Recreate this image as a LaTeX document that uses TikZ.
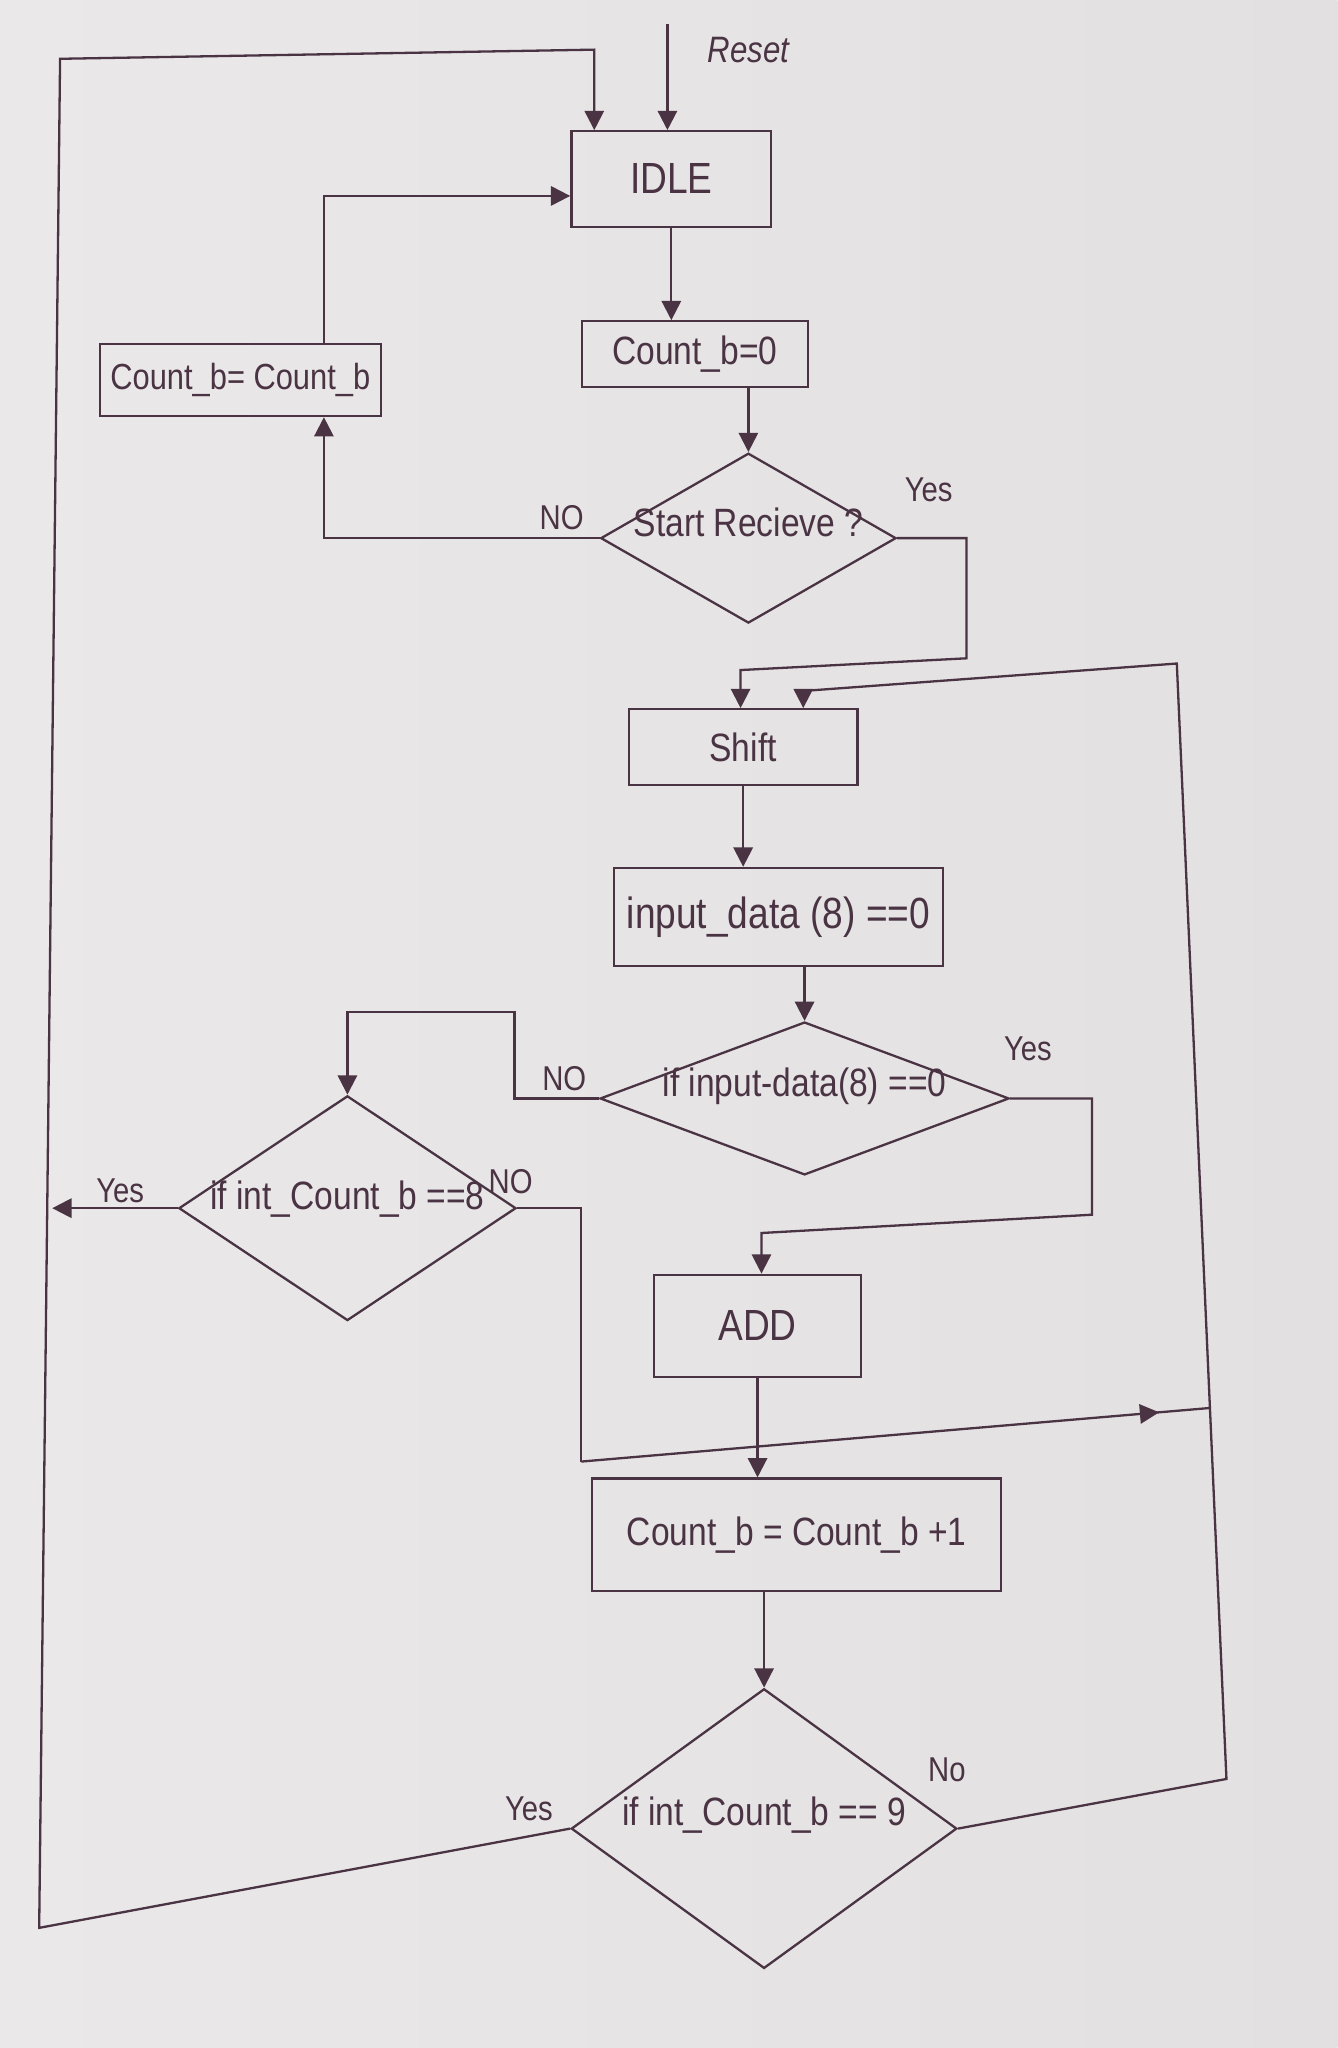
\documentclass[tikz,border=0pt]{standalone}
\usepackage{fontspec}
\setmainfont{Liberation Sans}[FakeStretch=0.85]
\usetikzlibrary{arrows.meta,shapes.geometric,decorations.markings}
\definecolor{ink}{HTML}{4A3343}
\definecolor{paperL}{HTML}{EAE8E9}
\definecolor{paperR}{HTML}{E2E0E1}
\begin{document}
\begin{tikzpicture}[x=0.01cm,y=-0.01cm,
  inkline/.style={draw=ink, line width=0.5pt},
  arr/.style={inkline, -{Triangle[width=4.2pt,length=4.2pt]}},
  midarr/.style={inkline, postaction={decorate},
    decoration={markings, mark=at position 0.92 with {\arrow{Triangle[width=4.2pt,length=4.2pt]}}}},
  box/.style={rectangle, inkline, inner sep=0pt, text=ink, font=\fontsize{8.6}{10}\selectfont},
  dia/.style={diamond, inkline, inner sep=0pt},
  txt/.style={text=ink, font=\fontsize{8.6}{10}\selectfont, inner sep=0pt},
  tag/.style={text=ink, font=\fontsize{7.5}{9}\selectfont, inner sep=0pt},
]
% paper
\shade[left color=paperL, right color=paperR] (0,0) rectangle (1024,1568);
\useasboundingbox (0,0) rectangle (1024,1568);

% process boxes and decisions
\node[box, minimum width=1.53cm, minimum height=0.73cm] (idle) at (514,137) {\fontsize{9.5}{11}\selectfont IDLE};
\node[box, minimum width=1.73cm, minimum height=0.50cm] (cnt0) at (532,271) {Count\_b=0};
\node[box, minimum width=2.15cm, minimum height=0.55cm] (keep) at (184,291) {\fontsize{7.9}{9}\selectfont Count\_b= Count\_b};
\node[dia, minimum width=2.26cm, minimum height=1.30cm,
      label={[txt, yshift=0.12cm]center:Start Recieve ?}] (start) at (573,412) {};
\node[box, minimum width=1.75cm, minimum height=0.58cm] (shift) at (569,572) {Shift};
\node[box, minimum width=2.52cm, minimum height=0.75cm] (inp) at (596,702) {\fontsize{9.5}{11}\selectfont input\_data (8) ==0};
\node[dia, minimum width=3.13cm, minimum height=1.17cm,
      label={[txt, yshift=0.09cm]center:if input-data(8) ==0}] (d1) at (616,841) {};
\node[dia, minimum width=2.58cm, minimum height=1.72cm,
      label={[txt, yshift=0.07cm]center:if int\_Count\_b ==8}] (d8) at (266,925) {};
\node[box, minimum width=1.58cm, minimum height=0.78cm] (add) at (580,1015) {\fontsize{9.5}{11}\selectfont ADD};
\node[box, minimum width=3.13cm, minimum height=0.86cm] (inc) at (610,1175) {Count\_b = Count\_b +1};
\node[dia, minimum width=2.95cm, minimum height=2.14cm,
      label={[txt, yshift=0.1cm]center:if int\_Count\_b == 9}] (d9) at (585,1400) {};

% branch labels
\node[tag, font=\fontsize{8}{9}\selectfont\itshape] (lreset) at (573,38) {Reset};
\node[tag] (lyes1) at (711,375) {Yes};
\node[tag] (lno1) at (430,396) {NO};
\node[tag] (lno2) at (432,826) {NO};
\node[tag] (lyes2) at (787,803) {Yes};
\node[tag] (lyes3) at (92,912) {Yes};
\node[tag] (lno3) at (391,905) {NO};
\node[tag] (lno4) at (725,1355) {No};
\node[tag] (lyes4) at (405,1385) {Yes};

% bends of the connectors
\coordinate (rst) at (511,18);
\coordinate (lt) at (46,45);
\coordinate (ltop) at (455,38);
\coordinate (lb) at (30,1476);
\coordinate (c1) at (248,412);
\coordinate (c2) at (248,150);
\coordinate (c3) at (740,504);
\coordinate (c4) at (567,513);
\coordinate (c5) at (939,1362);
\coordinate (c6) at (901,508);
\coordinate (c7) at (615,529);
\coordinate (c8) at (394,775);
\coordinate (c10) at (836,930);
\coordinate (c11) at (583,944);
\coordinate (c12) at (40,925);
\coordinate (c13) at (445,1119);
\coordinate (c14) at (926,1078);

% reset entry
\draw[arr] (rst) -- (rst |- idle.north);
% count reaches 9: back to IDLE
\draw[arr] (d9.west) -- (lb) -- (lt) -- (ltop) -- (ltop |- idle.north);
% main flow
\draw[arr] (idle.south) -- (idle.south |- cnt0.north);
\draw[arr] (cnt0.south -| start.north) -- (start.north);
\draw[arr] (start.west) -- (c1) -- (c1 |- keep.south);
\draw[arr] (c1 |- keep.north) -- (c2) -- (c2 -| idle.west);
\draw[arr] (start.east) -- (start.east -| c3) -- (c3) -- (c4) -- (c4 |- shift.north);
\draw[arr] (d9.east) -- (c5) -- (c6) -- (c7) -- (c7 |- shift.north);
\draw[arr] (shift.south) -- (shift.south |- inp.north);
\draw[arr] (inp.south -| d1.north) -- (d1.north);
\draw[arr] (d1.west) -- (d1.west -| c8) -- (c8) -- (c8 -| d8.north) -- (d8.north);
\draw[arr] (d1.east) -- (d1.east -| c10) -- (c10) -- (c11) -- (c11 |- add.north);
\draw[arr] (d8.west) -- (d8.west -| c12);
\draw[inkline] (d8.east) -| (c13);
\draw[midarr] (c13) -- (c14);
\draw[arr] (add.south) -- (add.south |- inc.north);
\draw[arr] (inc.south -| d9.north) -- (d9.north);
\end{tikzpicture}
\end{document}
